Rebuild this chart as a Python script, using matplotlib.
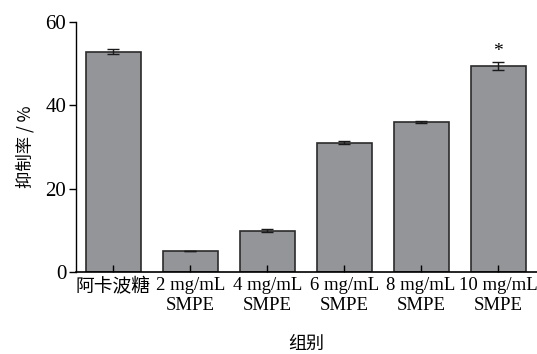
import matplotlib
matplotlib.use('Agg')
import matplotlib.pyplot as plt

plt.rcParams['font.family'] = ['Liberation Serif', 'Noto Sans CJK SC']

# data
groups = ['阿卡波糖', '2 mg/mL\nSMPE', '4 mg/mL\nSMPE', '6 mg/mL\nSMPE', '8 mg/mL\nSMPE', '10 mg/mL\nSMPE']
rates = [52.8, 5.0, 9.9, 31.0, 36.0, 49.4]
errors = [0.6, 0.1, 0.3, 0.4, 0.3, 0.9]
marks = ['', '', '', '', '', '*']

fig = plt.figure(figsize=(5.37, 3.54), dpi=100)
ax = fig.add_axes([0.1415, 0.232, 0.8585, 0.706])

x = range(len(groups))
ax.bar(x, rates, width=0.714, color='#939598', edgecolor='#2b2b2b', linewidth=1.2,
       yerr=errors, capsize=4, error_kw={'elinewidth': 1, 'capthick': 1, 'ecolor': '#1a1a1a'})

for i, m in enumerate(marks):
    if m:
        ax.text(i, rates[i] + errors[i] + 0.6, m, ha='center', va='bottom', fontsize=14)

ax.set_xlim(-0.487, 5.506)
ax.set_ylim(0, 60)
ax.set_yticks([0, 20, 40, 60])
ax.set_xticks(list(x))
ax.set_xticklabels(groups, fontsize=13.5, linespacing=1.2)
ax.tick_params(axis='y', labelsize=15, direction='out', length=5, width=1, pad=2)
ax.tick_params(axis='x', direction='in', length=5, width=1, pad=4)

ax.spines['top'].set_visible(False)
ax.spines['right'].set_visible(False)
ax.spines['left'].set_linewidth(1)
ax.spines['bottom'].set_linewidth(1.2)

ax.set_ylabel('抑制率 / %', fontsize=12.5, family=['Noto Sans CJK SC', 'Liberation Serif'], labelpad=8)
ax.set_xlabel('组别', fontsize=13, family=['Noto Sans CJK SC', 'Liberation Serif'], labelpad=15)

fig.savefig('out.png', dpi=100)
